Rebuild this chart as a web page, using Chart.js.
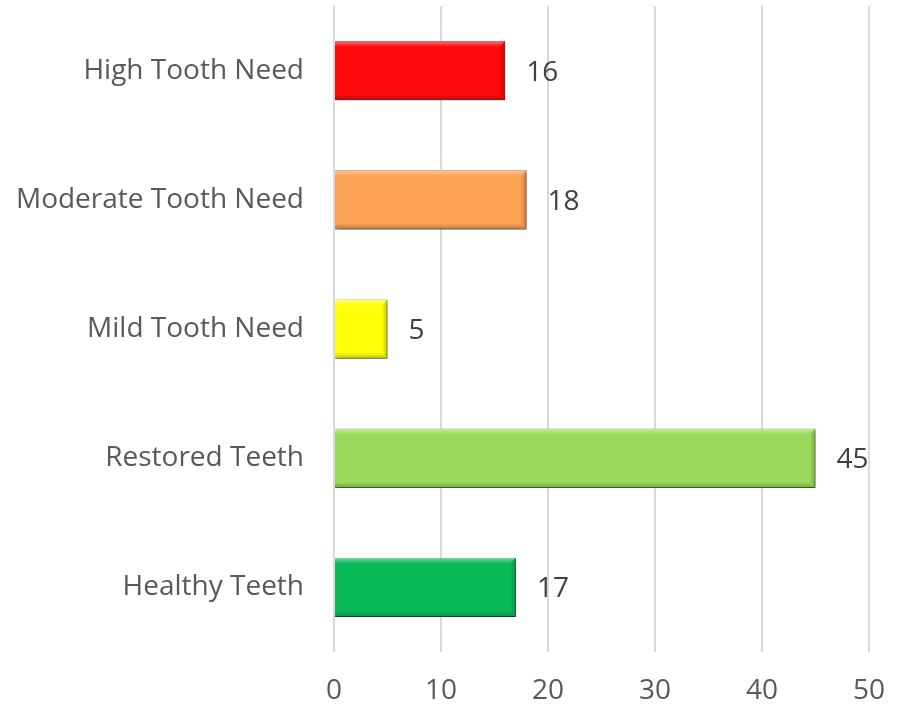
<!DOCTYPE html>
<html>
<head>
<meta charset="utf-8">
<script src="https://cdn.jsdelivr.net/npm/chart.js@4/dist/chart.umd.min.js"></script>
<style>
	body { margin: 0; background: #fff; }
	#wrap { width: 904px; height: 710px; position: relative; }
</style>
</head>
<body>
<div id="wrap"><canvas id="toothChart"></canvas></div>
<script>
// Data
const categories = ["High Tooth Need", "Moderate Tooth Need", "Mild Tooth Need", "Restored Teeth", "Healthy Teeth"];
const counts = [16, 18, 5, 45, 17];
const barColors = ["#FE0A0A", "#FBA154", "#FFFF0A", "#9BDA5C", "#0ABA58"];
const edgeColors = ["#B80000", "#C8742C", "#C4C400", "#6FA438", "#00803A"];
const xTicks = [0, 10, 20, 30, 40, 50];

const textFont = "'Open Sans', sans-serif";

// drop shadow behind the bars
const shadowPlugin = {
	id: "barShadow",
	beforeDatasetsDraw(chart) {
		const ctx = chart.ctx;
		ctx.save();
		ctx.shadowColor = "rgba(0,0,0,0.35)";
		ctx.shadowBlur = 5;
		ctx.shadowOffsetX = 2;
		ctx.shadowOffsetY = 3;
	},
	afterDatasetsDraw(chart) {
		chart.ctx.restore();
	}
};

// bevel look + value labels at the end of each bar
const bevelPlugin = {
	id: "bevelLabels",
	afterDatasetsDraw(chart) {
		const ctx = chart.ctx;
		const meta = chart.getDatasetMeta(0);
		meta.data.forEach(function (bar, i) {
			const left = bar.base;
			const right = bar.x;
			const top = bar.y - bar.height / 2;
			const bottom = bar.y + bar.height / 2;
			const e = 6;
			ctx.save();
			// top light strip
			let g = ctx.createLinearGradient(0, top, 0, top + e);
			g.addColorStop(0, "rgba(255,255,255,0.45)");
			g.addColorStop(1, "rgba(255,255,255,0)");
			ctx.fillStyle = g;
			ctx.beginPath();
			ctx.moveTo(left, top);
			ctx.lineTo(right, top);
			ctx.lineTo(right - e, top + e);
			ctx.lineTo(left, top + e);
			ctx.closePath();
			ctx.fill();
			// bottom dark strip
			g = ctx.createLinearGradient(0, bottom - e, 0, bottom);
			g.addColorStop(0, "rgba(0,0,0,0)");
			g.addColorStop(1, "rgba(0,0,0,0.25)");
			ctx.fillStyle = g;
			ctx.beginPath();
			ctx.moveTo(left, bottom);
			ctx.lineTo(right, bottom);
			ctx.lineTo(right - e, bottom - e);
			ctx.lineTo(left, bottom - e);
			ctx.closePath();
			ctx.fill();
			// right dark strip
			g = ctx.createLinearGradient(right - e, 0, right, 0);
			g.addColorStop(0, "rgba(0,0,0,0)");
			g.addColorStop(1, "rgba(0,0,0,0.22)");
			ctx.fillStyle = g;
			ctx.beginPath();
			ctx.moveTo(right, top);
			ctx.lineTo(right, bottom);
			ctx.lineTo(right - e, bottom - e);
			ctx.lineTo(right - e, top + e);
			ctx.closePath();
			ctx.fill();
			ctx.restore();

			// value label
			ctx.save();
			ctx.font = "28px " + textFont;
			ctx.fillStyle = "#404040";
			ctx.textAlign = "left";
			ctx.textBaseline = "middle";
			ctx.fillText(String(counts[i]), right + 21, bar.y + 2);
			ctx.restore();
		});
	}
};

new Chart(document.getElementById("toothChart").getContext("2d"), {
	type: "bar",
	data: {
		labels: categories,
		datasets: [
			{
				data: counts,
				backgroundColor: barColors,
				borderColor: edgeColors,
				borderWidth: 1,
				borderSkipped: "start",
				categoryPercentage: 1,
				barPercentage: 0.46,
			},
		],
	},
	options: {
		indexAxis: "y",
		responsive: true,
		maintainAspectRatio: false,
		animation: false,
		layout: { padding: { top: 6, right: 35, left: 0, bottom: 0 } },
		plugins: {
			legend: { display: false },
			tooltip: { enabled: false },
		},
		scales: {
			x: {
				min: 0,
				max: 50,
				afterBuildTicks(scale) {
					scale.ticks = xTicks.map(function (v) { return { value: v }; });
				},
				afterFit(scale) {
					scale.height = 58;
					scale.paddingLeft = 0;
					scale.paddingRight = 0;
				},
				border: { display: false },
				grid: { color: "#D9D9D9", lineWidth: 2, drawTicks: false },
				ticks: {
					padding: 22,
					color: "#595959",
					font: { family: textFont, size: 28 },
				},
			},
			y: {
				afterFit(scale) {
					scale.width = 334;
					// label overflow would push the plot down otherwise
					scale.paddingTop = 0;
					scale.paddingBottom = 0;
				},
				border: { display: false },
				grid: { display: false, drawTicks: false },
				ticks: {
					padding: 30,
					color: "#595959",
					font: { family: textFont, size: 28 },
				},
			},
		},
	},
	plugins: [shadowPlugin, bevelPlugin],
});
</script>
</body>
</html>
